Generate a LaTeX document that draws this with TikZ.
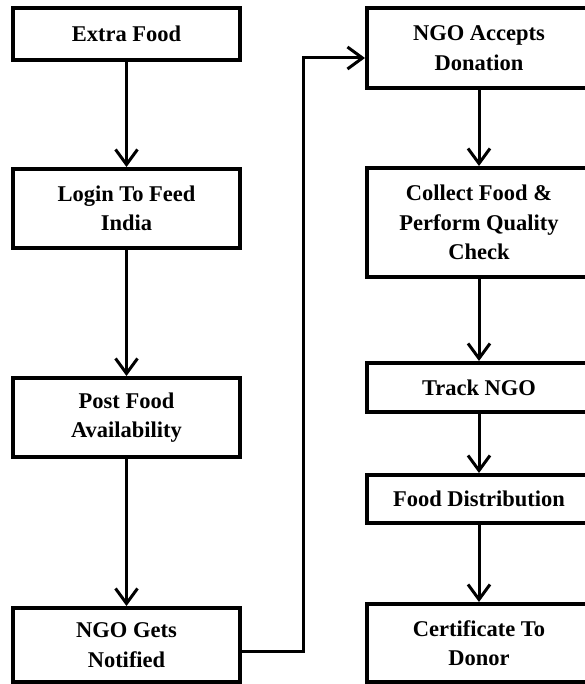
\documentclass[tikz,border=0pt]{standalone}
\usepackage{fontspec}
\setmainfont{Liberation Serif}
\usetikzlibrary{arrows.meta}
\begin{document}
\begin{tikzpicture}[x=1pt,y=-1pt,
  box/.style={draw=black,line width=4pt,inner sep=0pt,align=center,
    font=\fontsize{22.5}{29.5}\selectfont\bfseries},
  flow/.style={line width=3pt,-{Straight Barb[length=15pt,width=22pt]}}]
\useasboundingbox (0,0) rectangle (585,684);
\fill[white] (0,0) rectangle (585,684);
% left column
\node[box,minimum width=227pt,minimum height=52pt] (a) at (126.5,34) {Extra Food};
\node[box,minimum width=227pt,minimum height=79pt] (b) at (126.5,208.5) {Login To Feed\\India};
\node[box,minimum width=227pt,minimum height=79pt] (c) at (126.5,417.5) {Post Food\\Availability};
\node[box,minimum width=227pt,minimum height=74pt] (d) at (126.5,645) {NGO Gets\\Notified};
% right column
\node[box,minimum width=224pt,minimum height=80pt] (e) at (479,48) {NGO Accepts\\Donation};
\node[box,minimum width=224pt,minimum height=109pt] (f) at (479,222.5) {Collect Food \&\\Perform Quality\\Check};
\node[box,minimum width=224pt,minimum height=49pt] (g) at (479,387.5) {Track NGO};
\node[box,minimum width=224pt,minimum height=48pt] (h) at (479,499) {Food Distribution};
\node[box,minimum width=224pt,minimum height=78pt] (i) at (479,643) {Certificate To\\Donor};
% connectors
\draw[flow] (a.south) -- (b.north);
\draw[flow] (b.south) -- (c.north);
\draw[flow] (c.south) -- (d.north);
\coordinate (p1) at (303,651);
\coordinate (p2) at (303,58);
\draw[flow] (d.east |- p1) -- (p1) -- (p2) -- (e.west |- p2);
\draw[flow] (e.south) -- (f.north);
\draw[flow] (f.south) -- (g.north);
\draw[flow] (g.south) -- (h.north);
\draw[flow] (h.south) -- (i.north);
\end{tikzpicture}
\end{document}
